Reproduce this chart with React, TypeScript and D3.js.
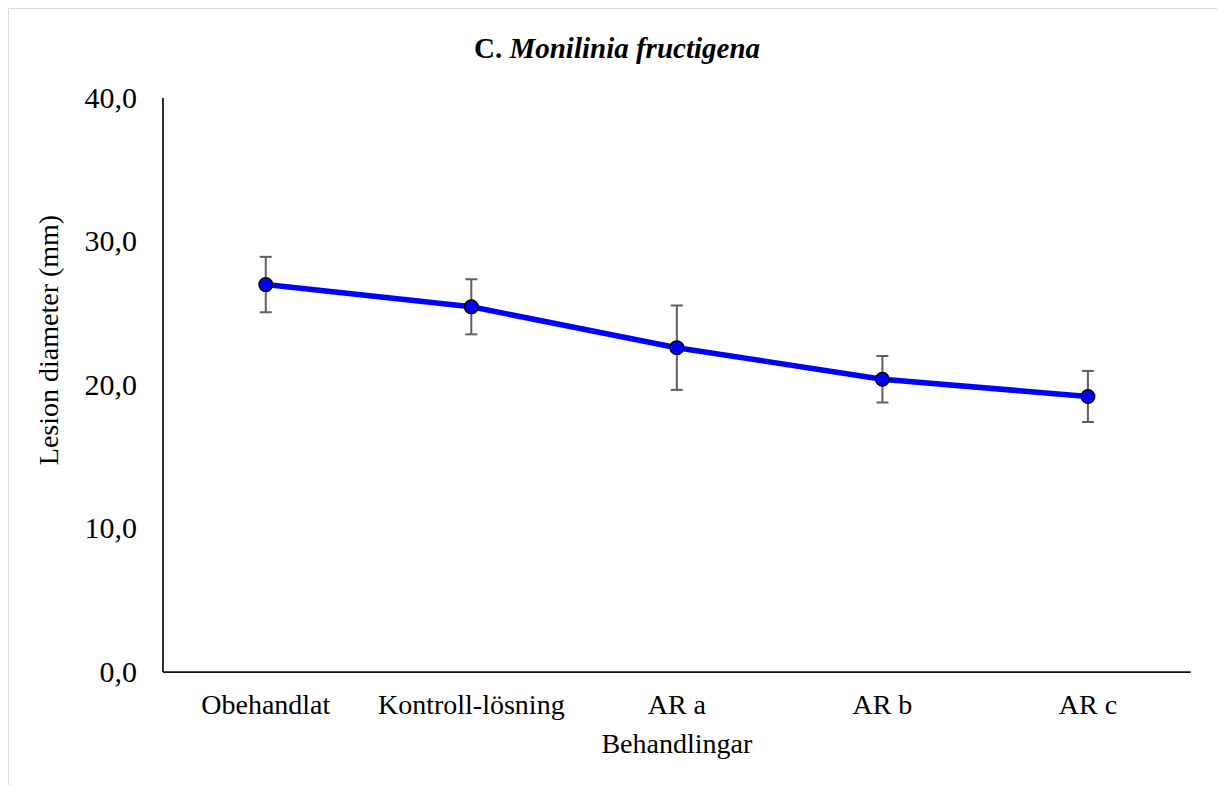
import * as d3 from "d3";

const CATEGORIES = ["Obehandlat", "Kontroll-lösning", "AR a", "AR b", "AR c"];
const MEANS = [27.0, 25.45, 22.6, 20.4, 19.2];
const ERRORS = [1.93, 1.92, 2.94, 1.62, 1.78];
const Y_TICKS = [0, 10, 20, 30, 40];

const W = 1217;
const H = 785;
const SERIF = '"Liberation Serif", "Times New Roman", Times, serif';

// page coordinates (svg is pinned to the viewport corner)
const PLOT = { left: 163, right: 1190.7, top: 98, bottom: 672 };

export default function App() {
  const x = d3
    .scaleBand<string>()
    .domain(CATEGORIES)
    .range([PLOT.left, PLOT.right])
    .padding(0);
  const y = d3.scaleLinear().domain([0, 40]).range([PLOT.bottom, PLOT.top]);
  const cx = (c: string) => (x(c) ?? 0) + x.bandwidth() / 2;

  const points = CATEGORIES.map((c, i) => ({ c, v: MEANS[i], e: ERRORS[i] }));
  const line = d3
    .line<{ c: string; v: number }>()
    .x((d) => cx(d.c))
    .y((d) => y(d.v));

  const fmt = (v: number) => v.toFixed(1).replace(".", ",");

  return (
    <svg
      width={W}
      height={H}
      fontFamily={SERIF}
      style={{ display: "block", position: "absolute", left: 0, top: 0, background: "#fff" }}
    >
      {/* chart frame; right and bottom edges sit outside the window */}
      <line x1={8.5} x2={W} y1={8.5} y2={8.5} stroke="#d9d9d9" strokeWidth={1} />
      <line x1={8.5} x2={8.5} y1={8.5} y2={H} stroke="#d9d9d9" strokeWidth={1} />

      <text x={617} y={58} textAnchor="middle" fontSize={29} fontWeight="bold" fill="#000">
        C. <tspan fontStyle="italic">Monilinia fructigena</tspan>
      </text>

      {Y_TICKS.map((t) => (
        <text
          key={t}
          x={137}
          y={y(t)}
          dy="0.33em"
          textAnchor="end"
          fontSize={30}
          fill="#000"
        >
          {fmt(t)}
        </text>
      ))}

      <text
        transform="translate(58, 340) rotate(-90)"
        textAnchor="middle"
        fontSize={28}
        fill="#000"
      >
        Lesion diameter (mm)
      </text>

      {CATEGORIES.map((c) => (
        <text key={c} x={cx(c)} y={714} textAnchor="middle" fontSize={28} fill="#000">
          {c}
        </text>
      ))}

      <text
        x={(PLOT.left + PLOT.right) / 2}
        y={753}
        textAnchor="middle"
        fontSize={28}
        fill="#000"
      >
        Behandlingar
      </text>

      {/* axes */}
      <line
        x1={PLOT.left}
        x2={PLOT.left}
        y1={PLOT.top}
        y2={PLOT.bottom}
        stroke="#111"
        strokeWidth={1.75}
      />
      <line
        x1={PLOT.left}
        x2={PLOT.right}
        y1={PLOT.bottom}
        y2={PLOT.bottom}
        stroke="#111"
        strokeWidth={1.75}
      />

      {/* error bars */}
      {points.map((p) => {
        const px = cx(p.c);
        const y0 = y(p.v - p.e);
        const y1 = y(p.v + p.e);
        return (
          <g key={`err-${p.c}`} stroke="#5f5f5f" strokeWidth={2}>
            <line x1={px} x2={px} y1={y0} y2={y1} />
            <line x1={px - 6} x2={px + 6} y1={y0} y2={y0} />
            <line x1={px - 6} x2={px + 6} y1={y1} y2={y1} />
          </g>
        );
      })}

      <path
        d={line(points) ?? ""}
        fill="none"
        stroke="#0000ff"
        strokeWidth={5.5}
        strokeLinejoin="round"
        strokeLinecap="round"
      />

      {points.map((p) => (
        <circle
          key={`pt-${p.c}`}
          cx={cx(p.c)}
          cy={y(p.v)}
          r={6.8}
          fill="#0000ff"
          stroke="#000"
          strokeWidth={1.5}
        />
      ))}
    </svg>
  );
}
